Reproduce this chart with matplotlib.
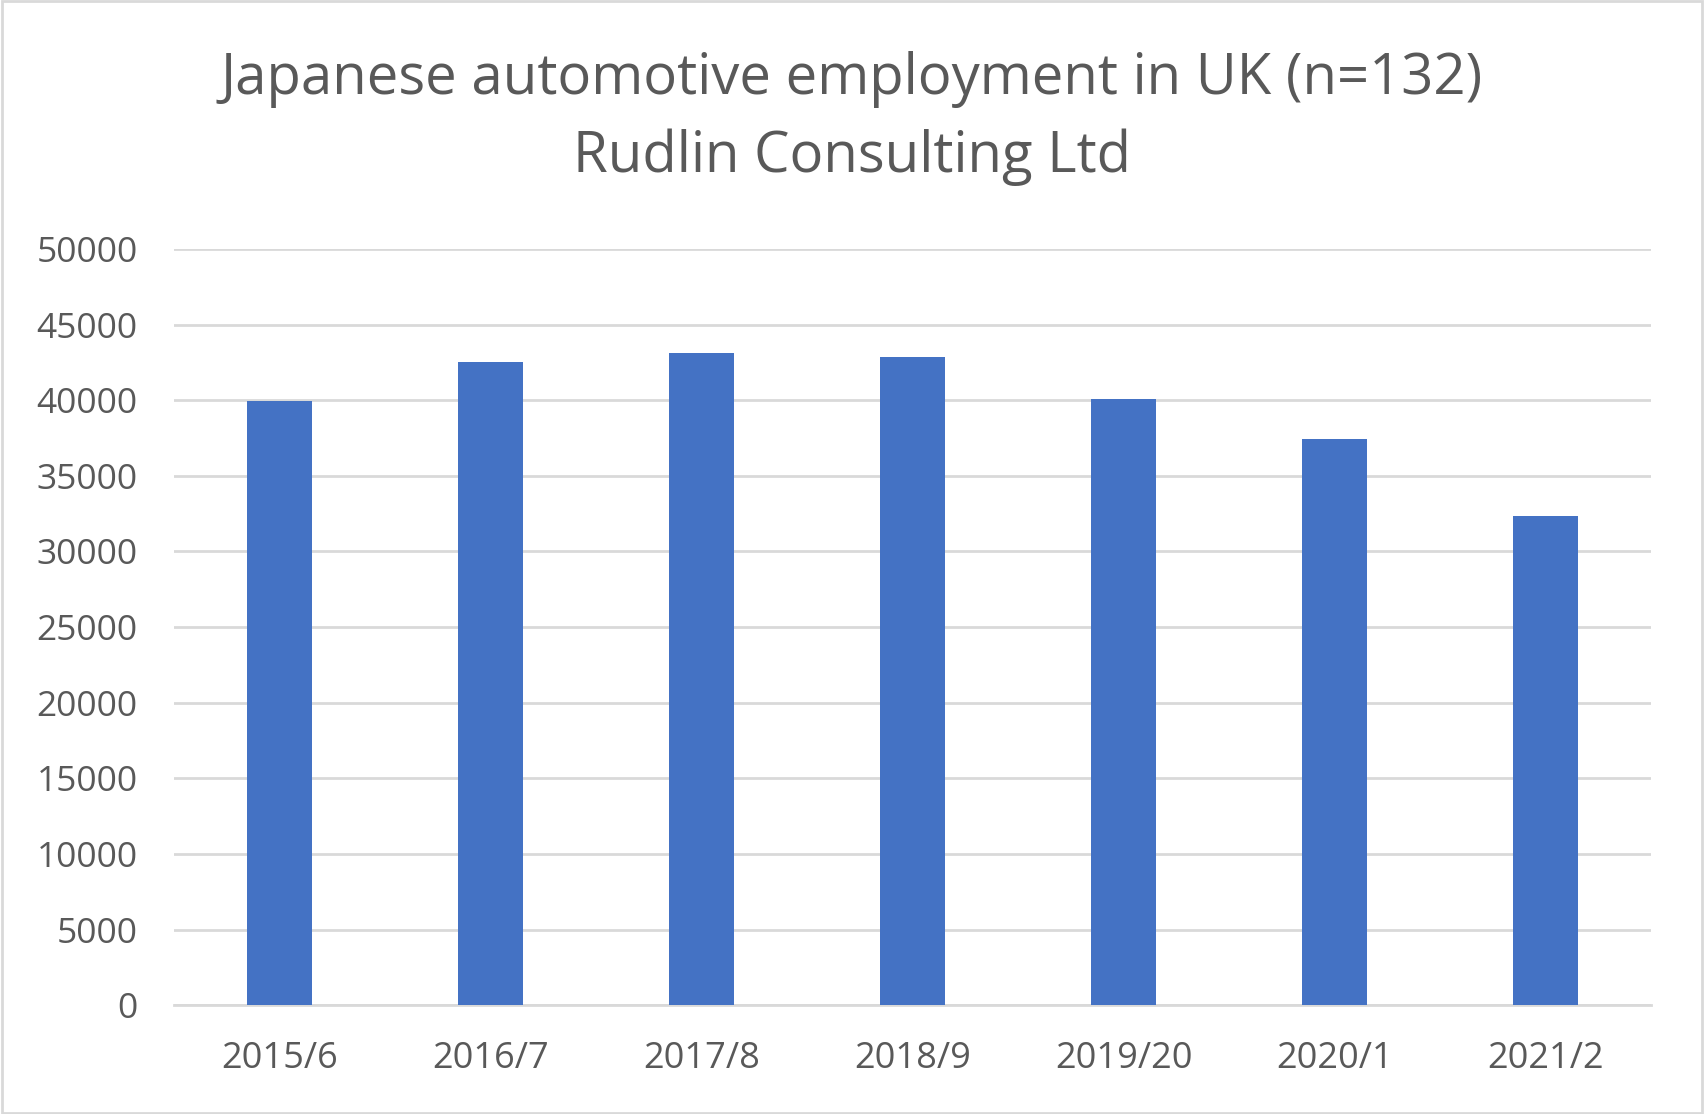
import matplotlib
matplotlib.use('Agg')
from matplotlib import pyplot as plt
from matplotlib.patches import Rectangle

years = ['2015/6', '2016/7', '2017/8', '2018/9', '2019/20', '2020/1', '2021/2']
employment = [39950, 42550, 43120, 42820, 40100, 37450, 32350]
yticks = list(range(0, 50001, 5000))

plt.rcParams['font.family'] = ['Open Sans', 'DejaVu Sans']
txt = '#595959'

fig = plt.figure(figsize=(17.04, 11.14), dpi=100)
ax = fig.add_axes([0.102, 0.0976, 0.867, 0.679])

x = range(len(years))
ax.bar(x, employment, width=0.31, color='#4472C4', zorder=3)
ax.set_xlim(-0.5, len(years) - 0.5)
ax.set_ylim(0, 50000)
ax.set_yticks(yticks)
ax.set_yticklabels([str(v) for v in yticks])
ax.set_xticks(list(x))
ax.set_xticklabels(years)
ax.grid(axis='y', color='#d9d9d9', lw=2, zorder=0)
for s in ['top', 'right', 'left']:
    ax.spines[s].set_visible(False)
ax.spines['bottom'].set_color('#d9d9d9')
ax.spines['bottom'].set_linewidth(2)
ax.tick_params(axis='both', length=0, labelsize=25.5, colors=txt)
ax.tick_params(axis='x', labelsize=26, pad=26)
ax.tick_params(axis='y', pad=26)

fig.text(0.5, 0.929, 'Japanese automotive employment in UK (n=132)',
         ha='center', va='center', fontsize=40.5, color=txt)
fig.text(0.5, 0.859, 'Rudlin Consulting Ltd',
         ha='center', va='center', fontsize=40.5, color=txt)

fig.patches.append(Rectangle((0.001, 0.001), 0.998, 0.998, transform=fig.transFigure,
                             fill=False, edgecolor='#d9d9d9', lw=2))

fig.savefig('out.png', dpi=100, facecolor='white')
